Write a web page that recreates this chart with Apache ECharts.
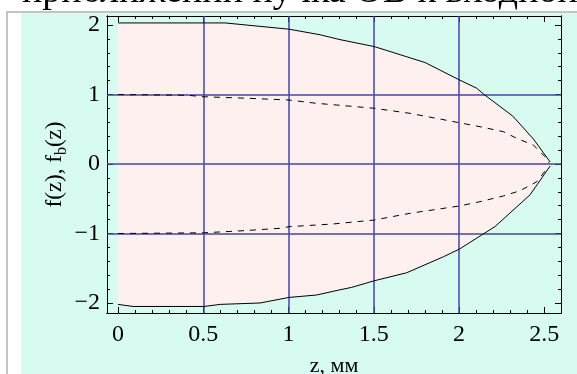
<!DOCTYPE html>
<html>
<head>
<meta charset="utf-8">
<script src="https://cdn.jsdelivr.net/npm/echarts@6/dist/echarts.min.js"></script>
<style>
html,body{margin:0;padding:0;background:#fff;}
#c{width:577px;height:374px;}
</style>
</head>
<body>
<div id="c"></div>
<script>
// ---- data ----
const titleText = 'приближении пучка ОВ к входной';
const xName = 'z, мм';
const xTickValues = [0, 0.5, 1, 1.5, 2, 2.5];
const xTickLabels = ['0', '0.5', '1', '1.5', '2', '2.5'];
const xMinorValues = [0,0.1,0.2,0.3,0.4,0.5,0.6,0.7,0.8,0.9,1,1.1,1.2,1.3,1.4,1.5,1.6,1.7,1.8,1.9,2,2.1,2.2,2.3,2.4,2.5];
const yTickValues = [-2, -1, 0, 1, 2];
const yTickLabels = ['\u22122', '\u22121', '0', '1', '2'];
const yMinorValues = [-2,-1.8,-1.6,-1.4,-1.2,-1,-0.8,-0.6,-0.4,-0.2,0,0.2,0.4,0.6,0.8,1,1.2,1.4,1.6,1.8,2];
const gridZ = [0.5, 1, 1.5, 2];
const gridF = [-1, 0, 1];

// outer curve f(z)
const zUpper = [0, 0.628, 1.003, 1.185, 1.302, 1.503, 1.801, 2.002, 2.104, 2.147, 2.315, 2.436, 2.534];
const fUpper = [2.03, 2.03, 1.94, 1.86, 1.79, 1.69, 1.46, 1.21, 1.09, 1.0, 0.69, 0.36, 0.03];
const zLower = [0, 0.088, 0.504, 0.6, 0.833, 1.003, 1.165, 1.302, 1.371, 1.503, 1.693, 1.908, 2.002, 2.153, 2.211, 2.416, 2.534];
const fLower = [-2.02, -2.05, -2.05, -2.02, -2.0, -1.92, -1.885, -1.81, -1.775, -1.68, -1.565, -1.335, -1.225, -0.99, -0.9, -0.445, -0.03];
// inner dashed curve fb(z)
const zbUpper = [0, 0.403, 0.504, 0.774, 1.003, 1.165, 1.283, 1.503, 1.713, 2.002, 2.123, 2.26, 2.338, 2.436, 2.504, 2.528];
const fbUpper = [1.0, 0.99, 0.968, 0.945, 0.921, 0.873, 0.849, 0.802, 0.729, 0.594, 0.537, 0.465, 0.37, 0.273, 0.105, 0.014];
const zbLower = [0, 0.504, 0.733, 0.95, 1.003, 1.261, 1.503, 1.713, 2.002, 2.123, 2.26, 2.358, 2.456, 2.524];
const fbLower = [-1.0, -0.99, -0.96, -0.925, -0.902, -0.863, -0.806, -0.709, -0.604, -0.542, -0.46, -0.384, -0.255, -0.039];

// ---- build ----
const FONT = '"Liberation Serif", "Times New Roman", serif';
const pair = (xs, ys) => xs.map((x, i) => [x, ys[i]]);
const upper = pair(zUpper, fUpper);
const lower = pair(zLower, fLower);
const polygon = upper.concat(lower.slice().reverse());

const XMIN = -0.0645, XMAX = 2.598, YMIN = -2.144, YMAX = 2.13;

function xAx(pos, vals, len, labels) {
  return {type: 'value', min: XMIN, max: XMAX, position: pos,
    splitLine: {show: false},
    axisLine: {show: true, onZero: false, lineStyle: {color: '#000', width: 1}},
    axisTick: {show: true, inside: true, length: len, customValues: vals, lineStyle: {color: '#000', width: 1}},
    axisLabel: labels ? {show: true, customValues: xTickValues, margin: 10,
      formatter: v => xTickLabels[xTickValues.findIndex(t => Math.abs(t - v) < 1e-6)],
      fontFamily: FONT, fontSize: 24, color: '#000'} : {show: false},
    name: labels ? xName : '', nameLocation: 'middle', nameGap: 42, nameMoveOverlap: false,
    nameTextStyle: {fontFamily: FONT, fontSize: 22, color: '#000'}
  };
}
function yAx(pos, vals, len, labels) {
  return {type: 'value', min: YMIN, max: YMAX, position: pos,
    splitLine: {show: false},
    axisLine: {show: true, onZero: false, lineStyle: {color: '#000', width: 1}},
    axisTick: {show: true, inside: true, length: len, customValues: vals, lineStyle: {color: '#000', width: 1}},
    axisLabel: labels ? {show: true, customValues: yTickValues, margin: 7,
      formatter: v => yTickLabels[yTickValues.findIndex(t => Math.abs(t - v) < 1e-6)],
      fontFamily: FONT, fontSize: 24, color: '#000'} : {show: false},
    name: labels ? '{n|f(z), f}{s|b}{n|(z)}' : '', nameLocation: 'middle', nameGap: 37, nameRotate: 90,
    nameMoveOverlap: false,
    nameTextStyle: {color: '#000', rich: {
      n: {fontFamily: FONT, fontSize: 23, color: '#000', lineHeight: 30},
      s: {fontFamily: FONT, fontSize: 16, color: '#000', verticalAlign: 'bottom', lineHeight: 16}
    }}
  };
}

const chart = echarts.init(document.getElementById('c'), null, {renderer: 'canvas'});
chart.setOption({
  animation: false,
  backgroundColor: '#ffffff',
  grid: {left: 107, right: 16, top: 16, bottom: 61, containLabel: false, outerBoundsMode: 'none'},
  graphic: [
    {type: 'rect', z: -100, shape: {x: 21, y: 13, width: 560, height: 365}, style: {fill: '#d7fbf0'}},
    {type: 'line', z: -90, shape: {x1: 7, y1: 11, x2: 7, y2: 374}, style: {stroke: '#c4c4c4', lineWidth: 2}},
    {type: 'line', z: -90, shape: {x1: 6, y1: 12, x2: 577, y2: 12}, style: {stroke: '#c4c4c4', lineWidth: 2}},
    {type: 'text', z: 10, style: {x: 22, y: -8, text: titleText, font: '38px ' + FONT, fill: '#000', verticalAlign: 'middle', align: 'left'}}
  ],
  xAxis: [
    xAx('bottom', xTickValues, 6, true),
    xAx('bottom', xMinorValues, 3, false),
    xAx('top', xTickValues, 6, false),
    xAx('top', xMinorValues, 3, false)
  ],
  yAxis: [
    yAx('left', yTickValues, 6, true),
    yAx('left', yMinorValues, 3, false),
    yAx('right', yTickValues, 6, false),
    yAx('right', yMinorValues, 3, false)
  ],
  series: [
    {type: 'custom', z: 1, silent: true, clip: true, data: [[0, 0]],
      renderItem: (params, api) => ({type: 'polygon',
        shape: {points: polygon.map(p => api.coord(p))},
        style: {fill: '#fff0f0', stroke: 'none'}})},
    {type: 'line', z: 2, silent: true, data: [[0, 0]], symbol: 'none', lineStyle: {width: 0},
      markLine: {silent: true, symbol: ['none', 'none'], label: {show: false}, animation: false,
        lineStyle: {color: '#4646a6', width: 1.5, type: 'solid'},
        emphasis: {disabled: true},
        data: gridZ.map(v => ({xAxis: v})).concat(gridF.map(v => ({yAxis: v})))}},
    {type: 'line', z: 5, data: upper, symbol: 'none', lineStyle: {color: '#000', width: 1}},
    {type: 'line', z: 5, data: lower, symbol: 'none', lineStyle: {color: '#000', width: 1}},
    {type: 'line', z: 5, data: pair(zbUpper, fbUpper), symbol: 'none', lineStyle: {color: '#000', width: 1, type: [6, 6]}},
    {type: 'line', z: 5, data: pair(zbLower, fbLower), symbol: 'none', lineStyle: {color: '#000', width: 1, type: [6, 6]}}
  ]
});
</script>
</body>
</html>
